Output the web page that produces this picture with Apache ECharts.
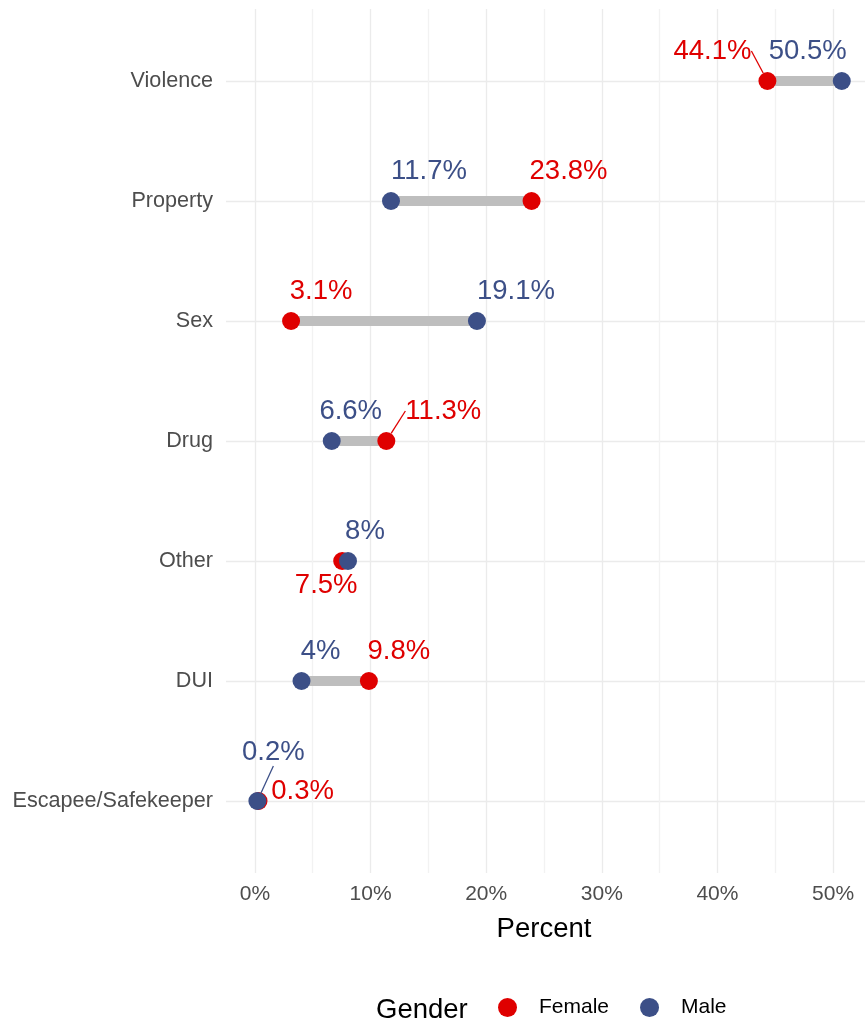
<!DOCTYPE html>
<html><head><meta charset="utf-8">
<script src="https://cdn.jsdelivr.net/npm/echarts@6/dist/echarts.min.js"></script>
<style>html,body{margin:0;padding:0;background:#fff}#c{width:865px;height:1020px}</style>
</head><body><div id="c"></div>
<script>
const categories = ['Violence','Property','Sex','Drug','Other','DUI','Escapee/Safekeeper'];
const female = [44.1, 23.8, 3.1, 11.3, 7.5, 9.8, 0.3];
const male = [50.5, 11.7, 19.1, 6.6, 8, 4, 0.2];
const xMajorTicks = [0, 10, 20, 30, 40, 50];

// label nudges (styling, in px from dot centre)
const femaleNudge = [[-55,-30],[37,-30],[30,-30],[57,-30],[-16,24],[30,-30],[44,-10]];
const maleNudge   = [[-34,-30],[38,-30],[39,-30],[19,-30],[17,-30],[19,-30],[16,-49]];
const femaleLeader = [true,false,false,true,false,false,false];
const maleLeader   = [false,false,false,false,false,false,true];

const RED = '#DF0000', BLUE = '#3C4F87';
const FONT = 'Liberation Sans, Arial, sans-serif';
const XMIN = -2.5, XMAX = 52.5;

const chart = echarts.init(document.getElementById('c'), null, {renderer: 'canvas'});

function pointSeries(name, vals, color, nudge, leader, z) {
  return {
    name: name, type: 'scatter', xAxisIndex: 1, yAxisIndex: 1, z: z,
    symbol: 'circle', symbolSize: 18,
    itemStyle: {color: color, opacity: 1},
    data: vals.map((v, i) => ({value: [v, categories[i]], labelLine: {show: leader[i]}})),
    label: {
      show: true, position: 'inside', color: color, fontSize: 27.5, fontFamily: FONT,
      formatter: p => p.value[0] + '%'
    },
    labelLine: {show: false, lineStyle: {color: color, width: 1.3}},
    labelLayout: p => ({dx: nudge[p.dataIndex][0], dy: nudge[p.dataIndex][1]}),
    emphasis: {disabled: true},
    clip: false
  };
}

const option = {
  backgroundColor: '#fff',
  animation: false,
  textStyle: {fontFamily: FONT},
  title: {
    text: 'Gender', left: 371, top: 991,
    textStyle: {fontSize: 27.5, fontWeight: 'normal', color: '#000', fontFamily: FONT}
  },
  legend: {
    data: ['Female', 'Male'], left: 493, top: 992, icon: 'circle',
    itemWidth: 19, itemHeight: 19, itemGap: 31,
    textStyle: {fontSize: 21, color: '#000', fontFamily: FONT, padding: [0, 0, 0, 17]}
  },
  grid: [
    {left: 226, width: 641, top: 9, bottom: 147},
    {left: 226, width: 641, top: 81, bottom: 219}
  ],
  xAxis: [
    {
      gridIndex: 0, type: 'value', min: XMIN, max: XMAX, interval: 2.5,
      name: 'Percent', nameLocation: 'middle', nameGap: 42,
      nameTextStyle: {fontSize: 27.5, color: '#000', fontFamily: FONT},
      axisLine: {show: false}, axisTick: {show: false},
      axisLabel: {
        color: '#4D4D4D', fontSize: 21, margin: 11, fontFamily: FONT,
        formatter: v => xMajorTicks.some(t => Math.abs(t - v) < 1e-9) ? v + '%' : ''
      },
      splitLine: {show: true, lineStyle: {color: ['rgba(0,0,0,0)', '#EBEBEB', 'rgba(0,0,0,0)', '#F2F2F2'], width: 1.3}}
    },
    {gridIndex: 1, type: 'value', min: XMIN, max: XMAX, show: false, splitLine: {show: false}}
  ],
  yAxis: [
    {gridIndex: 0, type: 'value', show: false, splitLine: {show: false}},
    {
      gridIndex: 1, type: 'category', data: categories, inverse: true, boundaryGap: false,
      axisLine: {show: false}, axisTick: {show: false},
      axisLabel: {color: '#4D4D4D', fontSize: 21.6, margin: 13, fontFamily: FONT},
      splitLine: {show: true, lineStyle: {color: '#EBEBEB', width: 1.3}}
    }
  ],
  series: [
    {
      type: 'custom', xAxisIndex: 1, yAxisIndex: 1, z: 2, clip: false, silent: true,
      data: categories.map((c, i) => [female[i], male[i], c]),
      encode: {x: [0, 1], y: 2},
      renderItem: (params, api) => {
        const a = api.coord([api.value(0), api.value(2)]);
        const b = api.coord([api.value(1), api.value(2)]);
        return {type: 'line', shape: {x1: a[0], y1: a[1], x2: b[0], y2: b[1]},
                style: {stroke: '#BEBEBE', lineWidth: 10, lineCap: 'butt'}};
      }
    },
    pointSeries('Female', female, RED, femaleNudge, femaleLeader, 3),
    pointSeries('Male', male, BLUE, maleNudge, maleLeader, 4)
  ]
};
chart.setOption(option);
</script>
</body></html>
